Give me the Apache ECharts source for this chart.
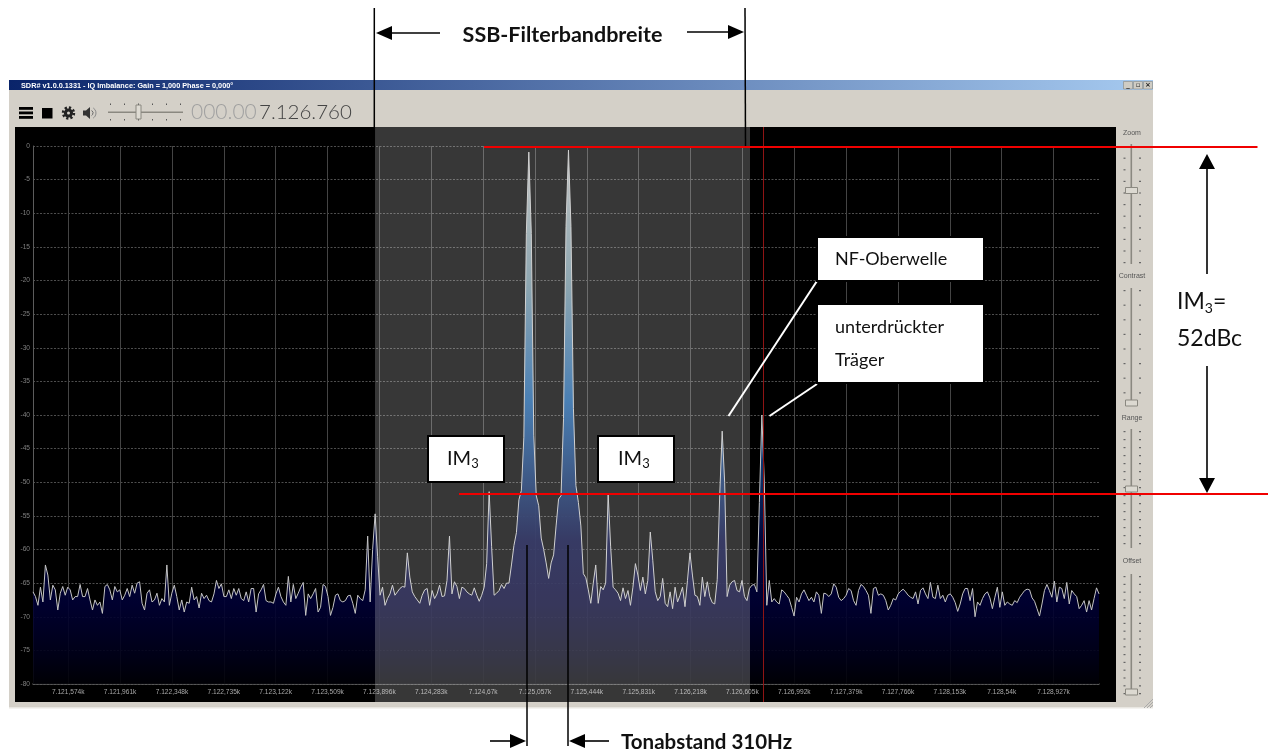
<!DOCTYPE html>
<html><head><meta charset="utf-8">
<script src="https://cdn.jsdelivr.net/npm/echarts@6/dist/echarts.min.js"></script>
<style>html,body{margin:0;padding:0;background:#fff}#c{width:1268px;height:756px}</style>
</head><body><div id="c"></div>
<script>
// Frequency of the first spectrum bin and bin width (Hz)
var startHz = 7121311, binHz = 18.5, endHz = 7129266;
var xTickHz = [7121574,7121961,7122348,7122735,7123122,7123509,7123896,7124283,7124670,7125057,7125444,7125831,7126218,7126605,7126992,7127379,7127766,7128153,7128540,7128927];
var xTickLabels = ['7.121,574k','7.121,961k','7.122,348k','7.122,735k','7.123,122k','7.123,509k','7.123,896k','7.124,283k','7.124,67k','7.125,057k','7.125,444k','7.125,831k','7.126,218k','7.126,605k','7.126,992k','7.127,379k','7.127,766k','7.128,153k','7.128,54k','7.128,927k'];
var levelsLeft = [
-66.3,-67,-68.3,-65.6,-67.8,-62.3,-63.8,-67.5,-65.3,-66,
-69,-66.5,-65.5,-66.8,-65.6,-66,-67.5,-67,-67,-65.2,
-67,-67,-65.8,-67.5,-69,-67.5,-68.3,-67.8,-69.5,-65.5,
-65.2,-66,-67.5,-65.5,-66.3,-66,-67.5,-66.8,-65.8,-67,
-65.3,-66.5,-65,-64.8,-68,-69,-66.5,-66,-67.8,-67.5,
-66.5,-68.3,-67.3,-67.8,-62.3,-68.3,-66.5,-65.3,-67,-69,
-67.5,-69.3,-67.8,-68,-65.6,-67.5,-67,-68.7,-66.5,-67.3,
-66.8,-67.6,-67.8,-66.6,-64.6,-65.8,-65.1,-67,-67,-66,
-67.3,-65.8,-66.8,-65.8,-67.3,-67.6,-66.3,-67.8,-65.8,-65.8,
-69.3,-66.6,-66,-65.2,-67.6,-67.8,-67.8,-68,-66.6,-65.6,
-67,-67.8,-68.3,-64,-67.8,-65.2,-67.3,-66.5,-65.6,-64.9,
-69.8,-66.6,-67.3,-66.6,-65.8,-69.3,-68.6,-65.2,-65.5,-67,
-69.8,-68.6,-66.8,-66.6,-67.6,-67.8,-67.6,-66.9,-66.8,-68,
-69.5,-66.8,-67.3,-67.6,-66,-58,-67.8,-60,-54.7,-61
];
var levelsBand = [
-66.8,-65.6,-68.3,-67.3,-66.6,-65.3,-66.8,-66.3,-65.8,-65.5,
-65.6,-60.5,-64.1,-66.3,-67,-67.5,-68,-66.8,-66,-65.8,
-68.3,-66.1,-67.3,-66.6,-65.3,-67,-66.9,-64.6,-58,-66.6,
-64.8,-65.5,-67.3,-65.6,-65.8,-66.3,-66.6,-66.8,-65.7,-66.8,
-67.7,-66.8,-65.6,-62.1,-51.4,-59.6,-66.8,-66.5,-66.1,-65.2,
-65.8,-65,-65,-62.3,-59.4,-57.5,-52.6,-51.2,-43.3,-13,
-0.9,-13,-43,-52,-53.5,-58.3,-60,-62,-64.3,-62,
-60.8,-56.5,-52.5,-52,-40.5,-12,-0.6,-12,-39,-50.5,
-53,-56.5,-63.6,-64.2,-66,-68,-65,-62.3,-68,-65.5,
-66,-65,-51.7,-59.5,-65.6,-66,-66.5,-67.6,-65.7,-67.3,
-66.1,-68.3,-65.6,-62.1,-63.8,-66.1,-64.1,-66.6,-64.6,-57.4,
-61.6,-66.3,-67.6,-67,-64.3,-68,-68.5,-66.3,-68.8,-65.6,
-67.8,-66.8,-65.6,-68.5,-64.6,-60.5,-63.8,-66.8,-67,-68.3,
-64.1,-67,-64.8,-67,-67.9,-68.1,-64.5,-52,-42.4,-50,
-67,-65.3,-64.8,-64.6,-66.1,-66.3,-64.6,-67,-67.6,-65.8,
-65.3,-65.2,-66.3,-53,-40,-50,-68.3,-64.6,-67.8,-67.3
];
var levelsRight = [
-67.8,-68.1,-66,-66.3,-66.8,-67.3,-68.6,-69.9,-67.1,-67.8,
-66.6,-66,-66.8,-67.6,-67.1,-67.8,-66.3,-66.8,-69.5,-66.5,
-66.6,-67,-66.6,-65.1,-65.6,-67.1,-67.6,-67.3,-66.8,-65.8,
-66.1,-67.6,-68.3,-66.1,-65.2,-65.5,-66.1,-66.8,-69.5,-65.8,
-65.6,-66.8,-66.6,-66.8,-67.6,-69,-68.3,-67.3,-67.5,-66.6,
-66.2,-65.9,-66.3,-66.8,-67.1,-67.3,-66.3,-68.1,-66.1,-65.7,
-66.6,-67.3,-64.9,-67.1,-67.3,-65.3,-67.3,-66.8,-67.8,-66.8,
-66.6,-67.1,-67.9,-69.2,-68.1,-66.6,-65.8,-65.8,-67.6,-65.8,
-70,-67.8,-68.3,-67.3,-66.6,-66.3,-67.2,-68.8,-67.1,-65.6,
-68.6,-66.3,-68.3,-67.8,-68.1,-68.3,-67.6,-67.9,-67.1,-66.6,
-66.1,-65.9,-66,-67.2,-67.7,-68.8,-69.9,-68.1,-66.1,-65.2,
-66.1,-67.1,-64.7,-67.8,-65.6,-65.8,-67.3,-64.9,-68.1,-66.1,
-66.6,-67,-68.8,-68.3,-67.6,-69.3,-67.6,-69,-67.3,-65.7,
-66.6
];
var levelDb = levelsLeft.concat(levelsBand, levelsRight);
var spectrum = levelDb.map(function (v, i) { return [startHz + i * binHz, v]; });

var BG = '#d4d0c8', SANS = 'Liberation Sans';
var g = [];
function rect(x, y, w, h, fill, z, extra) {
  var o = {type:'rect', z:z, silent:true, shape:{x:x,y:y,width:w,height:h}, style:Object.assign({fill:fill}, extra||{})};
  g.push(o); return o;
}
function line(x1, y1, x2, y2, color, w, z) {
  g.push({type:'line', z:z, silent:true, shape:{x1:x1,y1:y1,x2:x2,y2:y2}, style:{stroke:color, lineWidth:w}});
}
function poly(pts, fill, z) {
  g.push({type:'polygon', z:z, silent:true, shape:{points:pts}, style:{fill:fill}});
}
function text(x, y, s, font, fill, z, align, baseline, extra) {
  g.push({type:'text', z:z, silent:true, x:x, y:y, style:Object.assign({text:s, font:font, fill:fill, textAlign:align||'left', textVerticalAlign:baseline||'middle'}, extra||{})});
}
// ---- application window behind the plot
rect(9, 80, 1144, 628, BG, -20);
rect(9, 707, 1144, 1.5, '#e9e7e2', -19);
rect(9, 80, 1144, 10, new echarts.graphic.LinearGradient(0,0,1,0,[{offset:0,color:'#0a246a'},{offset:1,color:'#a6caf0'}]), -19);
rect(15, 127, 1101, 575, '#000', -19);
text(21, 85.5, 'SDR# v1.0.0.1331 - IQ Imbalance: Gain = 1,000 Phase = 0,000°', 'bold 7.3px "Liberation Sans"', '#fff', -18);
// window buttons
[1123.5, 1133.5, 1143.5].forEach(function (x, i) {
  rect(x, 81.5, 9, 7.5, '#cfccc4', -18, {stroke:'#8a8880', lineWidth:0.6});
  text(x + 4.5, 85, ['_','▫','×'][i], 'bold 7px "DejaVu Sans"', '#222', -17, 'center');
});
// toolbar icons
rect(19, 107, 14, 2.8, '#000', -18); rect(19, 111.5, 14, 2.8, '#000', -18); rect(19, 116, 14, 2.8, '#000', -18);
rect(42, 108, 10.5, 10.5, '#000', -18);
g.push({type:'circle', z:-18, silent:true, shape:{cx:68.5,cy:113,r:5.4}, style:{fill:'none', stroke:'#222', lineWidth:2.6, lineDash:[2.2,2]}});
g.push({type:'circle', z:-18, silent:true, shape:{cx:68.5,cy:113,r:4.6}, style:{fill:'#222'}});
g.push({type:'circle', z:-17, silent:true, shape:{cx:68.5,cy:113,r:1.5}, style:{fill:BG}});
poly([[83,110.5],[86,110.5],[90,107],[90,119],[86,115.5],[83,115.5]], '#333', -18);
g.push({type:'arc', z:-18, silent:true, shape:{cx:90,cy:113,r:3,startAngle:-1,endAngle:1}, style:{fill:'none', stroke:'#666', lineWidth:1}});
g.push({type:'arc', z:-18, silent:true, shape:{cx:90,cy:113,r:6,startAngle:-1,endAngle:1}, style:{fill:'none', stroke:'#888', lineWidth:1}});
// volume slider
rect(108, 111.5, 75, 1.5, '#8a8880', -18);
[110,124,138,152,166,180].forEach(function (x) {
  rect(x, 103.5, 1, 1.4, '#555', -18); rect(x, 119, 1, 1.4, '#555', -18);
});
rect(136, 105, 5, 14, '#dedbd3', -17, {stroke:'#8a8880', lineWidth:1});
text(191, 112, '000.00', '300 21px Lato', '#a0a0a0', -18);
text(259, 112, '7.126.760', '300 20.5px Lato', '#444', -18);
// right hand sliders
[['Zoom',133,144,264,190.5,11.6],['Contrast',276,288,405,403,14.6],['Range',418,429,548,489,8],['Offset',561,574,693,692,7.8]].forEach(function (s) {
  text(1132, s[1], s[0], '7px "Liberation Sans"', '#555', -18, 'center');
  rect(1130.5, s[2], 1.6, s[3]-s[2], '#8a8880', -18);
  for (var y = s[2] + 2; y <= s[3]; y += s[5]) {
    rect(1123.5, y, 2, 1.2, '#666', -18); rect(1139, y, 2, 1.2, '#666', -18);
  }
  rect(1125.5, s[4]-3, 12, 6, '#dcd9d1', -17, {stroke:'#8a8880', lineWidth:1});
});
// resize grip
line(1147,708,1153,702,'#aaa',1,-18); line(1150,708,1153,705,'#aaa',1,-18); line(1144,708,1153,699,'#aaa',1,-18);

// ---- filter band and carrier marker over the spectrum
rect(375, 127, 375, 575, 'rgba(255,255,255,0.215)', 10);
rect(763, 127, 1, 575, '#8f1414', 11);

// ---- annotations
function arrowH(x1, x2, y) {
  var d = x2 > x1 ? 1 : -1, L = 16;
  line(x1, y, x2 - d*L, y, '#000', 1.6, 20);
  poly([[x2,y],[x2-d*L,y-7],[x2-d*L,y+7]], '#000', 20);
}
function arrowV(x, y1, y2) {
  var d = y2 > y1 ? 1 : -1, L = 15;
  line(x, y1, x, y2 - d*L, '#000', 1.6, 20);
  poly([[x,y2],[x-8,y2-d*L],[x+8,y2-d*L]], '#000', 20);
}
line(374.3, 8, 374.3, 147, '#000', 1.5, 20);
line(745, 8, 745.5, 147, '#000', 1.5, 20);
arrowH(440, 376, 33); arrowH(687, 744, 32);
text(562.5, 35, 'SSB-Filterbandbreite', 'bold 21.5px Lato', '#111', 21, 'center');
line(484, 147, 1257.5, 147, '#f00000', 2, 22);
line(459, 494, 1268, 494, '#f00000', 2, 22);
arrowV(1207, 274, 154); arrowV(1207, 366, 493);
text(1177, 302, '{a|IM}{b|3}{a|=}', '', '#111', 21, 'left', 'middle', {rich:{a:{font:'23px Lato',fill:'#111',lineHeight:30,verticalAlign:'middle'},b:{font:'14px Lato',fill:'#111',lineHeight:30,padding:[12,0,0,0]}}});
text(1177, 339, '52dBc', '23px Lato', '#111', 21);
line(527, 545, 527, 746, '#000', 1.5, 20);
line(568, 545, 568, 746, '#000', 1.5, 20);
arrowH(490, 526, 741); arrowH(609, 569, 741);
text(621, 742, 'Tonabstand 310Hz', 'bold 20.5px Lato', '#111', 21);
function box(x, y, w, h) { rect(x, y, w, h, '#fff', 20, {stroke:'#000', lineWidth:2}); }
box(428, 436, 76, 46); box(598, 436, 76, 46);
[[447,459],[618,459]].forEach(function (p) {
  text(p[0], p[1], '{a|IM}{b|3}', '', '#111', 21, 'left', 'middle', {rich:{a:{font:'20px Lato',fill:'#111',lineHeight:26},b:{font:'13px Lato',fill:'#111',lineHeight:26,padding:[10,0,0,0]}}});
});
box(817, 237, 167, 44); box(817, 304, 167, 79);
text(835, 259, 'NF-Oberwelle', '18px Lato', '#111', 21);
text(835, 327, 'unterdrückter', '18px Lato', '#111', 21);
text(835, 360, 'Träger', '18px Lato', '#111', 21);
line(728.5, 416, 817, 281, '#fff', 2, 19);
line(769.5, 416, 817, 384, '#fff', 2, 19);

var chart = echarts.init(document.getElementById('c'), null, {renderer:'canvas'});
chart.setOption({
  backgroundColor:'#fff', animation:false,
  grid:{left:33, top:146, width:1066, height:538},
  xAxis:{type:'value', min:startHz, max:endHz, boundaryGap:false,
    axisLine:{show:true, onZero:false, lineStyle:{color:'#5c5c5c', width:1.5}},
    axisTick:{show:false, customValues:xTickHz},
    splitLine:{show:true, lineStyle:{color:'#444444', width:1}},
    axisLabel:{customValues:xTickHz, margin:5, color:'#a8a8a8', fontFamily:SANS, fontSize:6.6, showMinLabel:true, showMaxLabel:true, hideOverlap:false,
      formatter:function (v) { return xTickLabels[xTickHz.indexOf(v)] || ''; }}},
  yAxis:{type:'value', min:-80, max:0, interval:5,
    axisLine:{show:true, onZero:false, lineStyle:{color:'#5c5c5c', width:1}},
    axisTick:{show:false},
    splitLine:{show:true, lineStyle:{color:'#4e4e4e', width:1, type:[2,1.5]}},
    axisLabel:{margin:3, color:'#808080', fontFamily:SANS, fontSize:6.6}},
  series:[{type:'line', data:spectrum, showSymbol:false, symbol:'none', sampling:null, clip:true, z:3,
    lineStyle:{color:'#c4c4c4', width:1},
    areaStyle:{origin:'start', opacity:1, color:new echarts.graphic.LinearGradient(0,0,0,1,[
      {offset:0,color:'rgba(176,180,180,1)'},{offset:0.25,color:'rgba(111,142,155,1)'},{offset:0.47,color:'rgba(24,92,159,1)'},
      {offset:0.64,color:'rgba(8,38,95,0.97)'},{offset:0.73,color:'rgba(0,6,63,0.93)'},{offset:0.85,color:'rgba(0,0,52,0.9)'},
      {offset:0.95,color:'rgba(0,0,24,0.9)'},{offset:1,color:'rgba(0,0,5,0.9)'}])}}],
  graphic:{elements:g}
});
</script></body></html>
